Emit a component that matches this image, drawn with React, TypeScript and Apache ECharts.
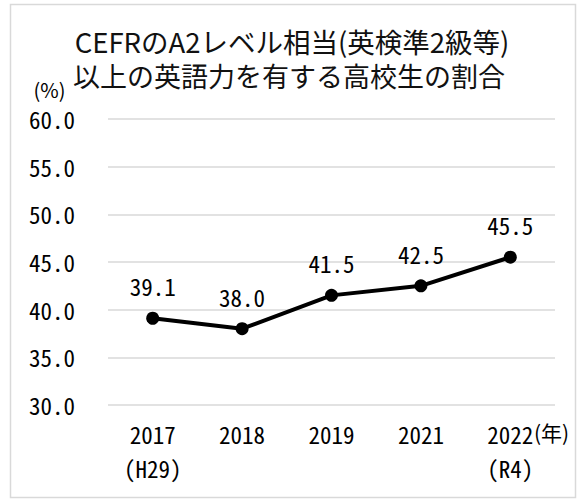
import React, { useEffect, useRef } from 'react';
import * as echarts from 'echarts';

const categories = ['2017\n(H29)', '2018', '2019', '2021', '2022\n(R4)'];
const values = [39.1, 38.0, 41.5, 42.5, 45.5];
const yMin = 30;
const yMax = 60;
const yStep = 5;
const titleLines = ['CEFRのA2レベル相当(英検準2級等)', '以上の英語力を有する高校生の割合'];
const yUnit = '(%)';
const xUnit = '(年)';

const MONO = "'Noto Sans Mono CJK JP', 'Noto Sans CJK JP', sans-serif";
const SANS = "'Noto Sans CJK JP', sans-serif";

export default function App() {
  const ref = useRef<HTMLDivElement>(null);
  useEffect(() => {
    if (!ref.current) return;
    const chart = echarts.init(ref.current, undefined, { renderer: 'svg' });
    chart.setOption({
      animation: false,
      backgroundColor: '#ffffff',
      grid: { left: 108, right: 28, top: 119, bottom: 96 },
      xAxis: {
        type: 'category',
        data: categories,
        boundaryGap: true,
        axisLine: { show: false },
        axisTick: { show: false },
        axisLabel: { fontFamily: MONO, fontSize: 23, color: '#000', lineHeight: 34, margin: 12, interval: 0 },
      },
      yAxis: {
        type: 'value',
        min: yMin,
        max: yMax,
        interval: yStep,
        axisLine: { show: false },
        axisTick: { show: false },
        splitLine: { lineStyle: { color: '#d9d9d9', width: 1.5 } },
        axisLabel: {
          fontFamily: MONO,
          fontSize: 23,
          color: '#000',
          margin: 33,
          formatter: (v: number) => v.toFixed(1),
        },
      },
      series: [
        {
          type: 'line',
          data: values,
          symbol: 'circle',
          symbolSize: 13,
          lineStyle: { color: '#000', width: 4 },
          itemStyle: { color: '#000' },
          label: {
            show: true,
            position: 'top',
            distance: 14,
            fontFamily: MONO,
            fontSize: 23,
            color: '#000',
            formatter: (p: any) => Number(p.value).toFixed(1),
          },
        },
      ],
      graphic: [
        {
          type: 'rect',
          shape: { x: 10.5, y: 4.5, width: 565, height: 493 },
          style: { fill: 'none', stroke: '#d9d9d9', lineWidth: 1.5 },
          silent: true,
        },
        {
          type: 'text',
          x: 292,
          y: 41,
          style: { text: titleLines[0], fontFamily: SANS, fontSize: 27.5, fill: '#111', align: 'center', verticalAlign: 'middle' },
        },
        {
          type: 'text',
          x: 289,
          y: 75,
          style: { text: titleLines[1], fontFamily: SANS, fontSize: 27, fill: '#111', align: 'center', verticalAlign: 'middle' },
        },
        {
          type: 'text',
          x: 49.5,
          y: 89,
          style: { text: yUnit, fontFamily: SANS, fontSize: 20, fill: '#000', align: 'center', verticalAlign: 'middle' },
        },
        {
          type: 'text',
          x: 534,
          y: 432,
          style: { text: xUnit, fontFamily: SANS, fontSize: 21, fill: '#000', align: 'left', verticalAlign: 'middle' },
        },
      ],
    });
    return () => chart.dispose();
  }, []);
  return (
    <div
      ref={ref}
      style={{ position: 'absolute', left: 0, top: 0, width: 583, height: 501 }}
    />
  );
}
